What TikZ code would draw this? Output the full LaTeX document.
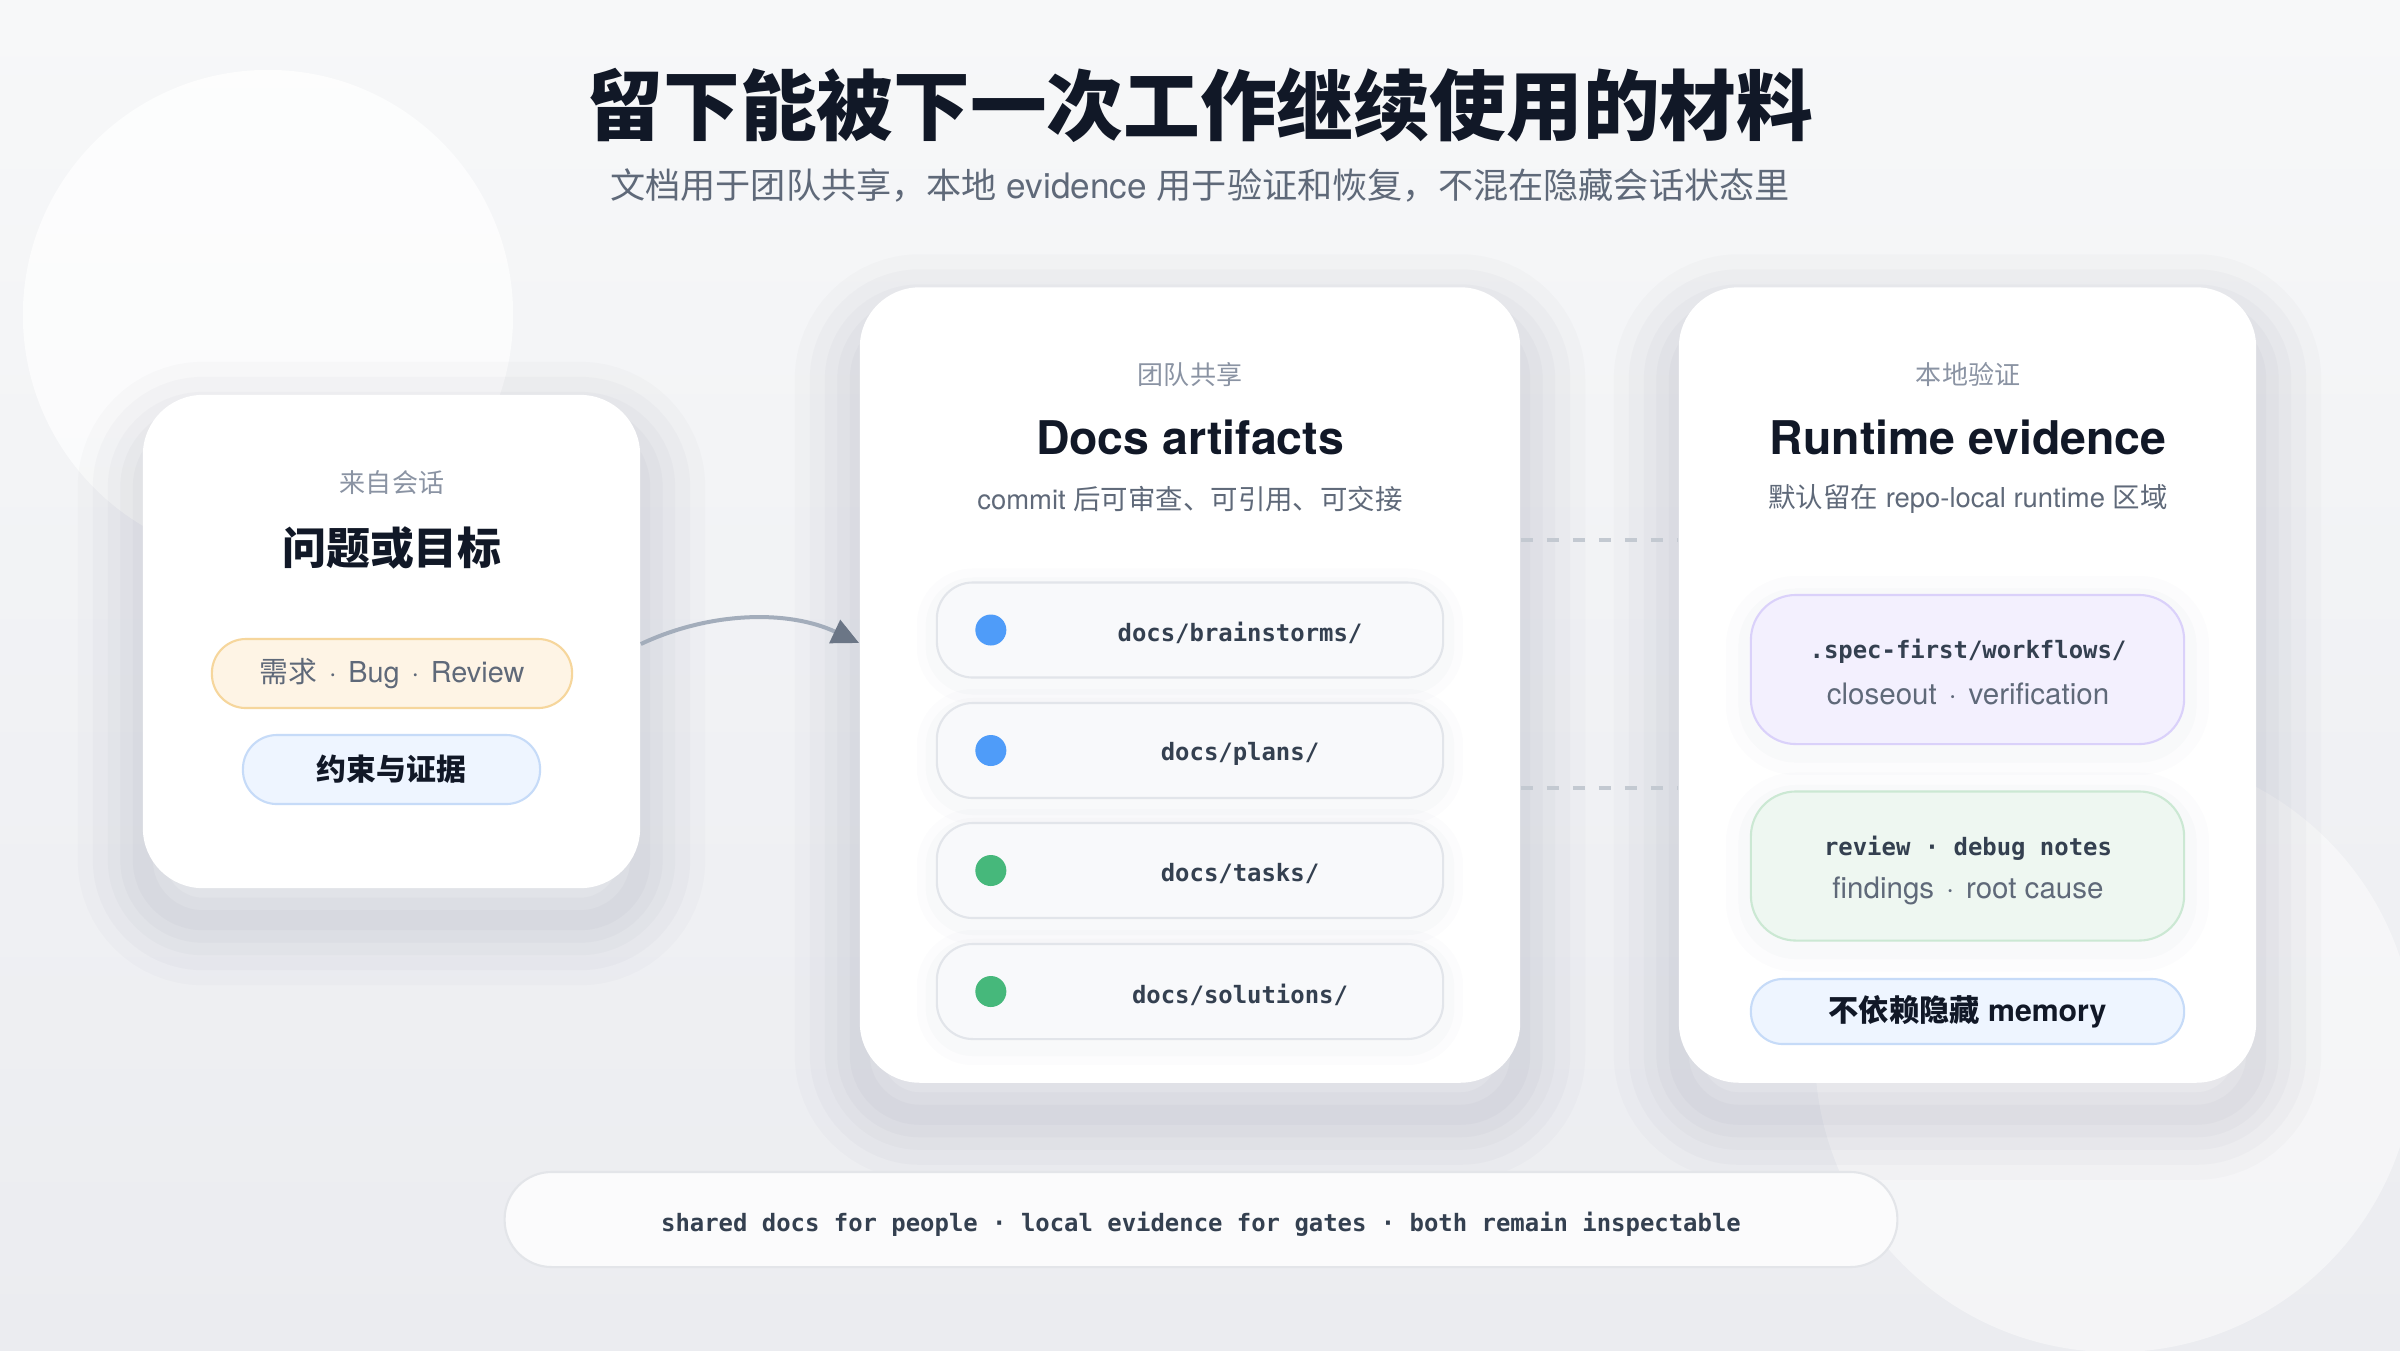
\documentclass[tikz,border=0pt]{standalone}
\usepackage{fontspec}
\setmainfont{TeX Gyre Heros}
\newfontfamily\cjk{Noto Sans CJK SC}
\newfontfamily\mono{DejaVu Sans Mono}
\usetikzlibrary{positioning,arrows.meta}

\definecolor{bgtop}{HTML}{F7F8F9}
\definecolor{bgbot}{HTML}{EBECF0}
\definecolor{ink}{HTML}{111827}
\definecolor{muted}{HTML}{8A93A3}
\definecolor{subink}{HTML}{5F6979}
\definecolor{codeink}{HTML}{344050}
\definecolor{rowfill}{HTML}{F8F9FB}
\definecolor{rowline}{HTML}{E2E5EA}
\definecolor{dotblue}{HTML}{4F9CF9}
\definecolor{dotgreen}{HTML}{46B87B}
\definecolor{amberfill}{HTML}{FEF4E5}
\definecolor{amberline}{HTML}{F6D69C}
\definecolor{skyfill}{HTML}{EEF5FF}
\definecolor{skyline}{HTML}{C6DBF8}
\definecolor{lilacfill}{HTML}{F3F0FE}
\definecolor{lilacline}{HTML}{DAD1FA}
\definecolor{mintfill}{HTML}{EEF7F1}
\definecolor{mintline}{HTML}{CBE8D3}
\definecolor{barfill}{HTML}{FBFBFC}
\definecolor{barline}{HTML}{E3E5E9}
\definecolor{flowline}{HTML}{A3ADBB}
\definecolor{flowhead}{HTML}{6B7686}
\definecolor{linkdash}{HTML}{C3C9D1}
\definecolor{shadowink}{HTML}{3A3F5C}

\begin{document}
\begin{tikzpicture}[
    x=0.01cm, y=-0.01cm,
    halo/.style 2 args={preaction={draw=shadowink, draw opacity=#2, line width=#1, transform canvas={yshift=-0.32cm}}},
    softhalo/.style 2 args={preaction={draw=shadowink, draw opacity=#2, line width=#1, transform canvas={yshift=-0.06cm}}},
    card/.style={fill=white, rounded corners=0.6cm, inner sep=0pt,
        halo={1.3cm}{0.02}, halo={1.0cm}{0.022}, halo={0.7cm}{0.024},
        halo={0.45cm}{0.026}, halo={0.2cm}{0.028}},
    row/.style={fill=rowfill, draw=rowline, line width=0.6pt, rounded corners=0.36cm,
        minimum width=5.06cm, minimum height=0.95cm, inner sep=0pt,
        softhalo={0.4cm}{0.012}, softhalo={0.22cm}{0.014}},
    evbox/.style={draw, line width=0.6pt, rounded corners=0.45cm, inner sep=0pt,
        minimum width=4.33cm, minimum height=1.49cm,
        softhalo={0.5cm}{0.012}, softhalo={0.25cm}{0.014}},
    pill/.style={draw, line width=0.6pt, rounded corners=0.34cm, inner sep=0pt, minimum height=0.69cm},
    dotmark/.style={circle, inner sep=0pt, minimum size=0.31cm},
    kicker/.style={inner sep=0pt, text=muted, font=\fontsize{7.4}{9}\selectfont\cjk},
    headline/.style={inner sep=0pt, text=ink, font=\fontsize{13.2}{16}\selectfont\bfseries},
    blurb/.style={inner sep=0pt, text=subink, font=\fontsize{7.8}{9.5}\selectfont},
    note/.style={inner sep=0pt, text=subink, font=\fontsize{8.4}{10}\selectfont},
    code/.style={inner sep=0pt, text=codeink, font=\fontsize{6.8}{8}\selectfont\mono\bfseries},
    flow/.style={line width=0.04cm, draw=flowline, -{Triangle[length=0.27cm, width=0.25cm, color=flowhead]}},
    link/.style={draw=linkdash, line width=0.034cm, dash pattern=on 0.12cm off 0.14cm},
]

% ---- 背景 ----
\useasboundingbox (0,0) rectangle (2400,1350);
\shade[top color=bgtop, bottom color=bgbot] (0,0) rectangle (2400,1350);
\begin{scope}
    \clip (0,0) rectangle (2400,1350);
    \shade[top color=white!70!bgtop, bottom color=white!35!bgtop] (268,315) circle[radius=2.45cm];
    \fill[white, opacity=0.45] (2115,1052) circle[radius=3cm];
\end{scope}

% ---- 标题 ----
\node[inner sep=0pt, text=ink, font=\fontsize{21.8}{26}\selectfont\cjk\bfseries] (title) at (1200,105) {留下能被下一次工作继续使用的材料};
\node[inner sep=0pt, text=subink, font=\fontsize{10}{12}\selectfont] (subtitle) at (1200,185)
    {{\cjk 文档用于团队共享，本地} evidence {\cjk 用于验证和恢复，不混在隐藏会话状态里}};

% ---- 来自会话 ----
\node[card, minimum width=4.97cm, minimum height=4.93cm] (src) at (391.5,641.5) {};
\node[kicker] (src-kicker) at (392,483) {来自会话};
\node[inner sep=0pt, text=ink, font=\fontsize{12.5}{15}\selectfont\cjk\bfseries] (src-title) at (392,548) {问题或目标};
\node[pill, fill=amberfill, draw=amberline, minimum width=3.6cm, text=subink, font=\fontsize{8.2}{10}\selectfont] (src-tags) at (392,673.5)
    {{\cjk 需求}\hspace{0.4em}·\hspace{0.4em}Bug\hspace{0.4em}·\hspace{0.4em}Review};
\node[pill, fill=skyfill, draw=skyline, minimum width=2.97cm, text=ink, font=\fontsize{8.5}{10}\selectfont\cjk\bfseries] (src-proof) at (391.5,769.5) {约束与证据};

% ---- 团队共享 ----
\node[card, minimum width=6.6cm, minimum height=7.95cm] (docs) at (1190,685) {};
\node[kicker] (docs-kicker) at (1190,375) {团队共享};
\node[headline] (docs-title) at (1190,437) {Docs artifacts};
\node[blurb] (docs-blurb) at (1190,499) {commit {\cjk 后可审查、可引用、可交接}};

\foreach \y/\dir/\dot in {630/brainstorms/dotblue, 750.5/plans/dotblue, 870.5/tasks/dotgreen, 991.5/solutions/dotgreen} {
    \node[row] (row-\dir) at (1190,\y) {};
    \node[dotmark, fill=\dot] (dot-\dir) at ([xshift=0.55cm]row-\dir.west) {};
    \node[code] (label-\dir) at (1240,\y+3) {docs/\dir/};
}

% ---- 本地验证 ----
\node[card, minimum width=5.77cm, minimum height=7.95cm] (ev) at (1967.5,685) {};
\node[kicker] (ev-kicker) at (1968,375) {本地验证};
\node[headline] (ev-title) at (1968,437) {Runtime evidence};
\node[blurb] (ev-blurb) at (1968,499) {{\cjk 默认留在} repo-local runtime {\cjk 区域}};

\node[evbox, fill=lilacfill, draw=lilacline] (ev-flow) at (1967.5,669.5) {};
\node[code] (ev-flow-path) at (1968,651) {.spec-first/workflows/};
\node[note] (ev-flow-note) at (1968,694) {closeout\hspace{0.4em}·\hspace{0.4em}verification};

\node[evbox, fill=mintfill, draw=mintline] (ev-notes) at (1967.5,866) {};
\node[code] (ev-notes-path) at (1968,848) {review · debug notes};
\node[note] (ev-notes-note) at (1968,891) {findings\hspace{0.4em}·\hspace{0.4em}root cause};

\node[pill, fill=skyfill, draw=skyline, minimum width=4.33cm, minimum height=0.65cm, rounded corners=0.32cm,
      text=ink, font=\fontsize{8.6}{10}\selectfont\bfseries] (ev-memory) at (1967.5,1011.5) {{\cjk 不依赖隐藏} memory};

% ---- 连线 ----
\draw[flow] ([yshift=-0.025cm]src.east) .. controls +(0.7cm,0.33cm) and +(-0.7cm,0.33cm) .. ([yshift=0.42cm]docs.west);
\draw[link] ([yshift=1.45cm]docs.east) -- ([yshift=1.45cm]ev.west);
\draw[link] ([yshift=-1.03cm]docs.east) -- ([yshift=-1.03cm]ev.west);

% ---- 底部说明 ----
\node[pill, fill=barfill, draw=barline, minimum width=13.92cm, minimum height=0.95cm, rounded corners=0.47cm] (footer) at (1201,1219.5) {};
\node[code, text=codeink] (footer-text) at (1201,1224)
    {shared docs for people · local evidence for gates · both remain inspectable};

\end{tikzpicture}
\end{document}
